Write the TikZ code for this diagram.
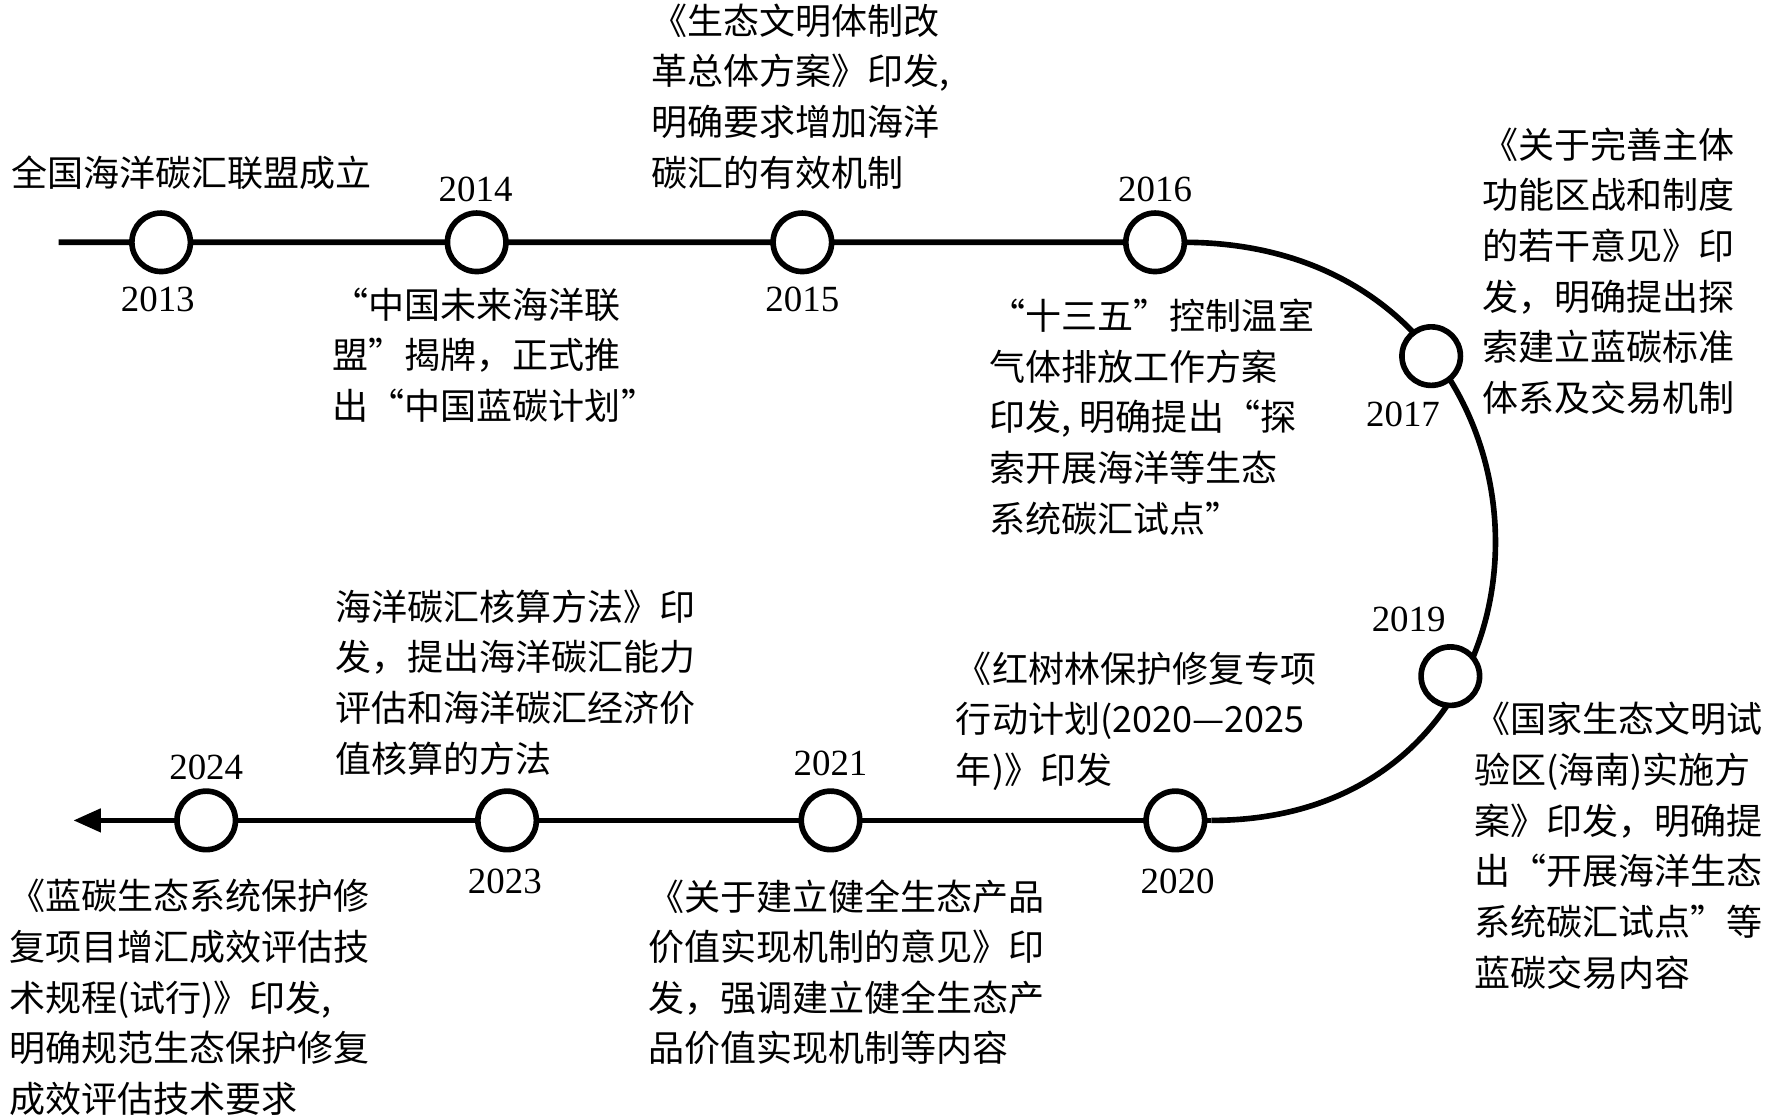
\documentclass[tikz,border=0pt]{standalone}
\usepackage{fontspec}
\setmainfont{Liberation Serif}
\newfontfamily\cjk{Noto Sans CJK SC}
\usetikzlibrary{arrows.meta}
\tikzset{>={Triangle[width=4.5mm,length=5.5mm]}}

\begin{document}
\begin{tikzpicture}[x=0.02254cm,y=-0.02254cm]
    \tikzstyle{ynode} = [circle, line width=3.2pt, draw=black, fill=white, minimum size=1.17cm, inner sep=0pt]
    \tikzstyle{year} = [font=\fontsize{21}{26}\selectfont, inner sep=0pt]
    \tikzstyle{note} = [font=\cjk\fontsize{20.5}{28.8}\selectfont, align=left, anchor=north west, inner sep=0pt]
    \useasboundingbox (0,0) rectangle (1568,991);

    % timeline
    \coordinate (start) at (52,215);
    \coordinate (turnA) at (1050,215);
    \coordinate (turnB) at (1075,728);
    \coordinate (stop) at (65,728);
    \draw[line width=3.2pt] (start) -- (turnA)
        .. controls (1410,215) and (1420,728) .. (turnB);
    \draw[line width=3.2pt,->] (turnB) -- (stop);

    % year circles
    \node[ynode] (n13) at (143,215) {};
    \node[ynode] (n14) at (423,215) {};
    \node[ynode] (n15) at (712,215) {};
    \node[ynode] (n16) at (1025,215) {};
    \node[ynode] (n17) at (1270,316) {};
    \node[ynode] (n19) at (1287,600) {};
    \node[ynode] (n20) at (1043,728) {};
    \node[ynode] (n21) at (737,728) {};
    \node[ynode] (n23) at (450,728) {};
    \node[ynode] (n24) at (183,728) {};

    % years
    \node[year] (y13) at (140,266) {2013};
    \node[year] (y14) at (422,168) {2014};
    \node[year] (y15) at (712,266) {2015};
    \node[year] (y16) at (1025,168) {2016};
    \node[year] (y17) at (1245,368) {2017};
    \node[year] (y19) at (1250,550) {2019};
    \node[year] (y20) at (1045,782) {2020};
    \node[year] (y21) at (737,677) {2021};
    \node[year] (y23) at (448,782) {2023};
    \node[year] (y24) at (183,681) {2024};

    % events
    \node[note] (t13) at (10,138) {全国海洋碳汇联盟成立};
    \node[note] (t15) at (578,3) {《生态文明体制改\\革总体方案》印发,\\明确要求增加海洋\\碳汇的有效机制};
    \node[note] (t14) at (295,255) {“中国未来海洋联\\盟”揭牌，正式推\\出“中国蓝碳计划”};
    \node[note] (t16) at (878,265) {“十三五”控制温室\\气体排放工作方案\\印发, 明确提出“探\\索开展海洋等生态\\系统碳汇试点”};
    \node[note] (t17) at (1315,113) {《关于完善主体\\功能区战和制度\\的若干意见》印\\发，明确提出探\\索建立蓝碳标准\\体系及交易机制};
    \node[note] (t19) at (1308,623) {《国家生态文明试\\验区(海南)实施方\\案》印发，明确提\\出“开展海洋生态\\系统碳汇试点”等\\蓝碳交易内容};
    \node[note] (t20) at (848,578) {《红树林保护修复专项\\行动计划(2020—2025\\年)》印发};
    \node[note] (t23) at (297,523) {海洋碳汇核算方法》印\\发，提出海洋碳汇能力\\评估和海洋碳汇经济价\\值核算的方法};
    \node[note] (t21) at (575,780) {《关于建立健全生态产品\\价值实现机制的意见》印\\发，强调建立健全生态产\\品价值实现机制等内容};
    \node[note] (t24) at (8,780) {《蓝碳生态系统保护修\\复项目增汇成效评估技\\术规程(试行)》印发,\\明确规范生态保护修复\\成效评估技术要求};
\end{tikzpicture}
\end{document}
